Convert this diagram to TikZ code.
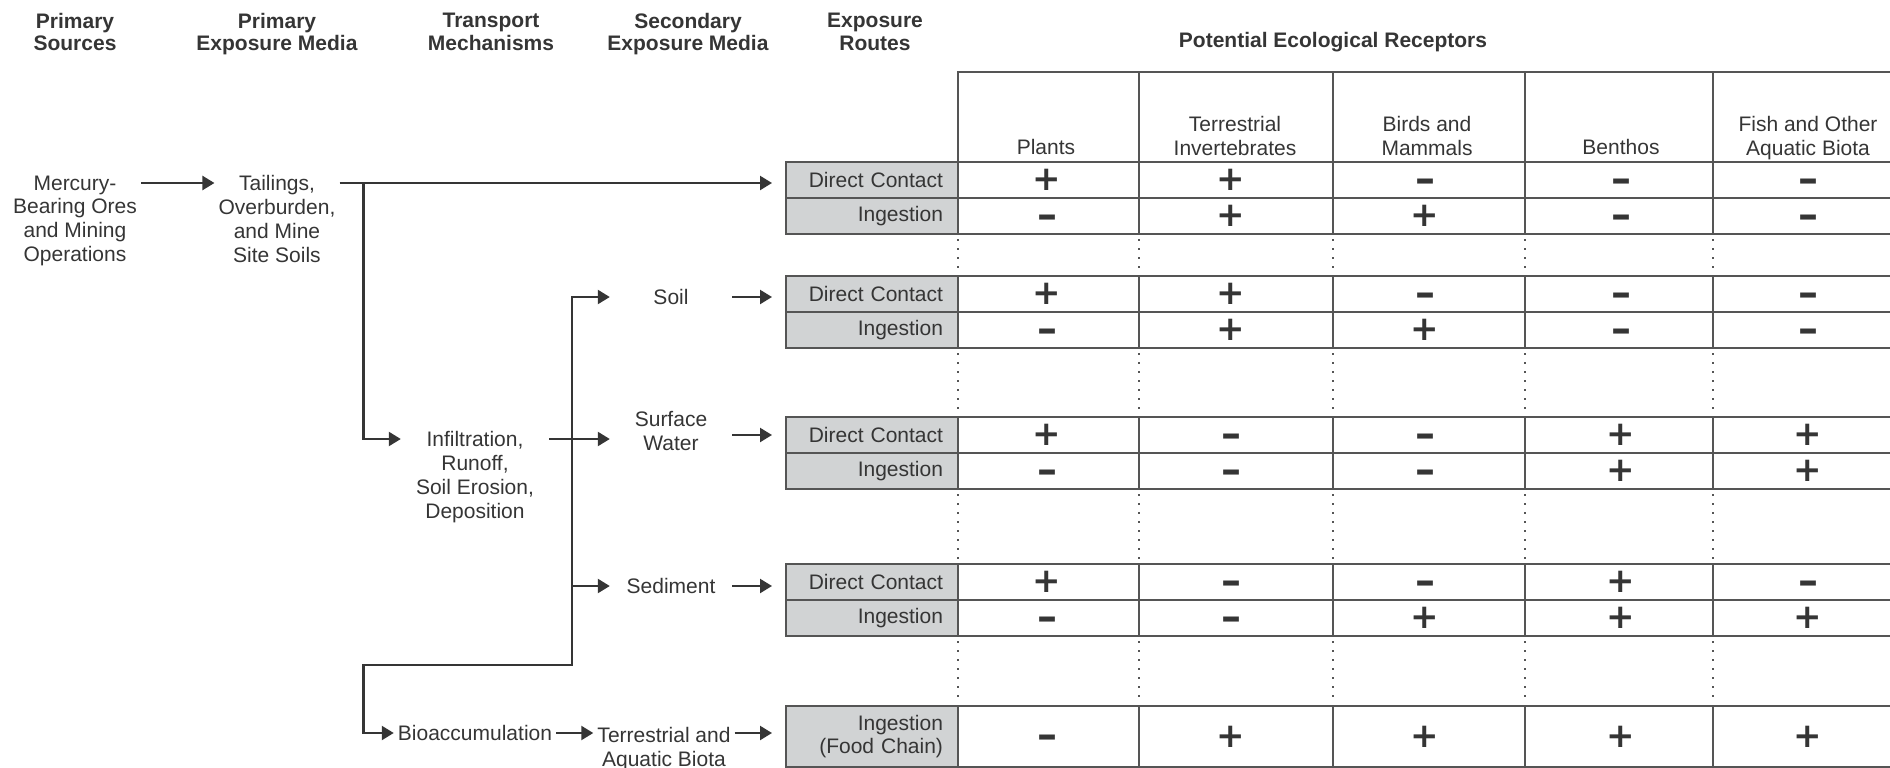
\documentclass[tikz,border=0pt]{standalone}
\usepackage{fontspec}
\setmainfont{Liberation Sans}
\newfontfamily\signfont{DejaVu Sans}
\usetikzlibrary{arrows.meta,positioning}
\definecolor{ink}{HTML}{353535}
\definecolor{rulegray}{HTML}{555555}
\definecolor{routegray}{HTML}{D1D3D4}
\newcommand{\signp}{{\signfont\fontsize{34}{34}\selectfont\bfseries +}}
\newcommand{\signm}{\raisebox{-9.4pt}[5.2pt][0pt]{\signfont\fontsize{40}{40}\selectfont\bfseries –}}

\begin{document}
\begin{tikzpicture}[x=1pt, y=-1pt, >={Triangle[length=12pt,width=14pt]}]
	\tikzstyle{head} = [font=\fontsize{21}{22.5}\selectfont\bfseries, text=ink, align=center, anchor=north, inner sep=0pt]
	\tikzstyle{txt} = [font=\fontsize{21}{23.7}\selectfont, text=ink, align=center, anchor=north, inner xsep=4pt, inner ysep=0pt]
	\tikzstyle{mech} = [txt, minimum width=148pt]
	\tikzstyle{media} = [txt, minimum width=122pt]
	\tikzstyle{route} = [rectangle, draw=rulegray, fill=routegray, line width=2pt, outer sep=0pt, minimum height=36pt, text width=142pt, inner xsep=15pt, inner ysep=0pt, align=right, font=\fontsize{21}{23.7}\selectfont, text=ink]
	\tikzstyle{line} = [draw=ink, line width=2.3pt, ->]
	\tikzstyle{into} = [line, shorten >=14pt]
	\tikzstyle{rules} = [draw=rulegray, line width=2pt, line cap=rect]
	\tikzstyle{gapdots} = [draw=rulegray, line width=1.6pt, dash pattern=on 1.6pt off 7.4pt, shorten <=5pt, shorten >=3pt]
	\tikzstyle{sign} = [text=ink, inner sep=0pt]

	\useasboundingbox (0,0) rectangle (1890,768);

	% Kopfzeile
	\node [head] (hsrc) at (75,13) {Primary\\Sources};
	\node [head] (hpem) at (277,13) {Primary\\Exposure Media};
	\node [head] (htm) at (491,13) {Transport\\Mechanisms};
	\node [head] (hsem) at (688,13) {Secondary\\Exposure Media};
	\node [head] (her) at (875,13) {Exposure\\Routes};
	\node [head] (hrec) at (1333,32) {Potential Ecological Receptors};

	\node [txt] (plants) at (1046,139) {Plants};
	\node [txt] (terr) at (1235,116) {Terrestrial\\Invertebrates};
	\node [txt] (birds) at (1427,116) {Birds and\\Mammals};
	\node [txt] (benthos) at (1621,139) {Benthos};
	\node [txt] (fish) at (1808,116) {Fish and Other\\Aquatic Biota};

	% Quellen und Medien
	\node [txt] (src) at (75,175.5) {Mercury-\\Bearing Ores\\and Mining\\Operations};
	\node [txt] (tail) at (277,175.5) {Tailings,\\Overburden,\\and Mine\\Site Soils};
	\node [mech] (infil) at (475,431.5) {Infiltration,\\Runoff,\\Soil Erosion,\\Deposition};
	\node [mech, anchor=center] (bio) at (475,733) {Bioaccumulation};
	\node [media, anchor=center] (soil) at (671,297) {Soil};
	\node [media] (sw) at (671,411.5) {Surface\\Water};
	\node [media, anchor=center] (sed) at (671,586) {Sediment};
	\node [media] (biota) at (664,727.5) {Terrestrial and\\Aquatic Biota};

	% Expositionswege
	\node [route] (dc1) at (872,180) {Direct Contact};
	\node [route, below=0pt of dc1] (in1) {Ingestion};
	\node [route, below=42pt of in1] (dc2) {Direct Contact};
	\node [route, below=0pt of dc2] (in2) {Ingestion};
	\node [route, below=69pt of in2] (dc3) {Direct Contact};
	\node [route, below=0pt of dc3] (in3) {Ingestion};
	\node [route, below=75pt of in3] (dc4) {Direct Contact};
	\node [route, below=0pt of dc4] (in4) {Ingestion};
	\node [route, below=70pt of in4, minimum height=61pt] (fc) {Ingestion\\(Food Chain)};

	% Tabelle
	\draw [rules] (958,72) -- (1890,72);
	\foreach \x in {958,1139,1333,1525,1713}
		\draw [rules] (\x,72) -- (\x,0 |- dc1.north);
	\foreach \n in {dc1,in1,dc2,in2,dc3,in3,dc4,in4,fc}{
		\draw [rules] (\n.north east) -- (1890,0 |- \n.north east)
			(\n.south east) -- (1890,0 |- \n.south east);
		\foreach \x in {1139,1333,1525,1713}
			\draw [rules] (\x,0 |- \n.north) -- (\x,0 |- \n.south);
	}
	\foreach \a/\b in {in1/dc2,in2/dc3,in3/dc4,in4/fc}
		\foreach \x in {958,1139,1333,1525,1713}
			\draw [gapdots] (\x,0 |- \a.south) -- (\x,0 |- \b.north);

	\foreach \n/\sA/\sB/\sC/\sD/\sE in {dc1/p/p/m/m/m, in1/m/p/p/m/m, dc2/p/p/m/m/m, in2/m/p/p/m/m, dc3/p/m/m/p/p, in3/m/m/m/p/p, dc4/p/m/m/p/m, in4/m/m/p/p/p, fc/m/p/p/p/p}{
		\node [sign] (\n-a) at (1047,0 |- \n.east) {\csname sign\sA\endcsname};
		\node [sign] (\n-b) at (1231,0 |- \n.east) {\csname sign\sB\endcsname};
		\node [sign] (\n-c) at (1425,0 |- \n.east) {\csname sign\sC\endcsname};
		\node [sign] (\n-d) at (1621,0 |- \n.east) {\csname sign\sD\endcsname};
		\node [sign] (\n-e) at (1808,0 |- \n.east) {\csname sign\sE\endcsname};
	}

	% Pfeile
	\coordinate (srcout) at ([yshift=-7.5pt]src.north east);
	\coordinate (tailout) at (srcout -| tail.east);
	\coordinate (split) at ([xshift=24pt]tailout);
	\coordinate (infilin) at ([yshift=-7.5pt]infil.north west);
	\coordinate (infilout) at ([yshift=-7.5pt]infil.north east);
	\coordinate (trunk) at (572,665);
	\coordinate (fork) at (split |- trunk);

	\path [line] (srcout) -- (srcout -| tail.west);
	\path [into] (tailout) -- (tailout -| dc1.west);
	\path [line] (split) |- (infilin);
	\path [line] (infilout) -- (infilout -| sw.west);
	\path [line, <->] (soil.west) -| (trunk) -- (fork) |- (bio.west);
	\path [line] (trunk |- sed.west) -- (sed.west);
	\path [line] (bio.east) -- (bio.east -| biota.west);
	\path [into] (soil.east) -- (soil.east -| dc2.west);
	\path [into] (sw.east |- dc3.west) -- (dc3.west);
	\path [into] (sed.east) -- (sed.east -| dc4.west);
	\path [into] (bio.east -| biota.east) -- (bio.east -| fc.west);
\end{tikzpicture}
\end{document}
